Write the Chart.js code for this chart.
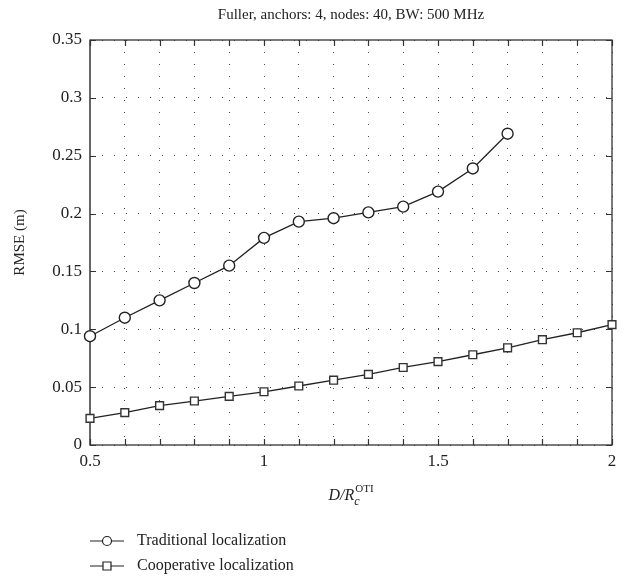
<!DOCTYPE html>
<html>
<head>
<meta charset="utf-8">
<script src="https://cdn.jsdelivr.net/npm/chart.js@4/dist/chart.umd.min.js"></script>
<style>
  body { margin: 0; background: #fff; }
  canvas { display: block; }
</style>
</head>
<body>
<canvas id="rmseChart" width="627" height="581"></canvas>
<script>
const ratioTraditional = [0.5, 0.6, 0.7, 0.8, 0.9, 1.0, 1.1, 1.2, 1.3, 1.4, 1.5, 1.6, 1.7];
const rmseTraditional = [0.094, 0.110, 0.125, 0.140, 0.155, 0.179, 0.193, 0.196, 0.201, 0.206, 0.219, 0.239, 0.269];
const ratioCooperative = [0.5, 0.6, 0.7, 0.8, 0.9, 1.0, 1.1, 1.2, 1.3, 1.4, 1.5, 1.6, 1.7, 1.8, 1.9, 2.0];
const rmseCooperative = [0.023, 0.028, 0.034, 0.038, 0.042, 0.046, 0.051, 0.056, 0.061, 0.067, 0.072, 0.078, 0.084, 0.091, 0.097, 0.104];
const xTickLabels = ['0.5', '1', '1.5', '2'];

const FONT = '"Liberation Serif", "DejaVu Serif", serif';
const INK = '#222';

const toPoints = (xs, ys) => xs.map((x, i) => ({ x: x, y: ys[i] }));

// frame, inward ticks, title, axis labels, legend
const decorations = {
    id: 'decorations',
    beforeDatasetsDraw(chart) {
        const ctx = chart.ctx;
        const a = chart.chartArea;
        const xs = chart.scales.x;
        const ys = chart.scales.y;
        ctx.save();

        ctx.strokeStyle = '#333';
        ctx.lineWidth = 1.3;
        ctx.strokeRect(a.left, a.top, a.right - a.left, a.bottom - a.top);
        ctx.strokeStyle = '#666';
        ctx.lineWidth = 2;
        ctx.beginPath();
        ctx.moveTo(a.left, a.top);
        ctx.lineTo(a.left, a.bottom);
        ctx.stroke();

        ctx.strokeStyle = '#333';
        ctx.lineWidth = 1.2;
        ctx.beginPath();
        xs.ticks.forEach(t => {
            const px = Math.round(xs.getPixelForValue(t.value)) + 0.5;
            ctx.moveTo(px, a.bottom); ctx.lineTo(px, a.bottom - 6);
            ctx.moveTo(px, a.top); ctx.lineTo(px, a.top + 6);
        });
        ys.ticks.forEach(t => {
            const py = Math.round(ys.getPixelForValue(t.value)) + 0.5;
            ctx.moveTo(a.left, py); ctx.lineTo(a.left + 6, py);
            ctx.moveTo(a.right, py); ctx.lineTo(a.right - 6, py);
        });
        ctx.stroke();
        ctx.restore();
    },
    afterDraw(chart) {
        const ctx = chart.ctx;
        const a = chart.chartArea;
        ctx.save();

        const cx = (a.left + a.right) / 2;
        ctx.fillStyle = INK;
        ctx.textBaseline = 'middle';
        ctx.textAlign = 'center';
        ctx.font = '15px ' + FONT;
        ctx.fillText('Fuller, anchors: 4, nodes: 40, BW: 500 MHz', cx, 15);

        ctx.save();
        ctx.translate(20, (a.top + a.bottom) / 2);
        ctx.rotate(-Math.PI / 2);
        ctx.font = '15px ' + FONT;
        ctx.fillText('RMSE (m)', 0, 0);
        ctx.restore();

        // x axis title: D/R_c^OTI
        ctx.textAlign = 'left';
        const main = 'italic 16px ' + FONT;
        const small = '11px ' + FONT;
        const smallIt = 'italic 12px ' + FONT;
        ctx.font = main;
        const w1 = ctx.measureText('D/R').width;
        ctx.font = small;
        const w2 = ctx.measureText('OTI').width;
        let x0 = cx - (w1 + 1 + w2) / 2;
        const yT = 496;
        ctx.font = main;
        ctx.fillText('D/R', x0, yT);
        ctx.font = smallIt;
        ctx.fillText('c', x0 + w1, yT + 6);
        ctx.font = small;
        ctx.fillText('OTI', x0 + w1 + 1, yT - 7);

        // legend
        const rows = [
            { label: 'Traditional localization', style: 'circle', y: 541 },
            { label: 'Cooperative localization', style: 'rect', y: 566 }
        ];
        rows.forEach(r => {
            ctx.strokeStyle = INK;
            ctx.lineWidth = 1.2;
            ctx.beginPath();
            ctx.moveTo(90, r.y); ctx.lineTo(124, r.y);
            ctx.stroke();
            ctx.fillStyle = '#fff';
            ctx.beginPath();
            if (r.style === 'circle') {
                ctx.arc(107, r.y, 4.5, 0, Math.PI * 2);
            } else {
                ctx.rect(103, r.y - 4, 8, 8);
            }
            ctx.fill();
            ctx.stroke();
            ctx.fillStyle = INK;
            ctx.font = '16px ' + FONT;
            ctx.fillText(r.label, 137, r.y);
        });

        ctx.restore();
    }
};

new Chart(document.getElementById('rmseChart'), {
    type: 'line',
    data: {
        datasets: [
            {
                label: 'Traditional localization',
                data: toPoints(ratioTraditional, rmseTraditional),
                borderColor: INK,
                borderWidth: 1.3,
                pointStyle: 'circle',
                pointRadius: 5.5,
                pointBorderWidth: 1.4,
                pointBackgroundColor: '#fff',
                pointBorderColor: INK,
                clip: false,
                tension: 0
            },
            {
                label: 'Cooperative localization',
                data: toPoints(ratioCooperative, rmseCooperative),
                borderColor: INK,
                borderWidth: 1.3,
                pointStyle: 'rect',
                pointRadius: 5.5,
                pointBorderWidth: 1.4,
                pointBackgroundColor: '#fff',
                pointBorderColor: '#333',
                clip: false,
                tension: 0
            }
        ]
    },
    options: {
        responsive: false,
        animation: false,
        layout: { padding: { left: 0, right: 15, top: 40, bottom: 100 } },
        plugins: {
            legend: { display: false },
            title: { display: false },
            tooltip: { enabled: false }
        },
        scales: {
            x: {
                type: 'linear',
                min: 0.5,
                max: 2,
                afterFit: s => { s.height = 36; },
                afterBuildTicks: s => {
                    s.ticks = [];
                    for (let i = 5; i <= 20; i++) s.ticks.push({ value: i / 10 });
                },
                ticks: {
                    autoSkip: false,
                    maxRotation: 0,
                    padding: 6,
                    color: INK,
                    font: { family: FONT, size: 17 },
                    callback: v => {
                        const k = Math.round(v * 2);
                        return Math.abs(v * 2 - k) < 1e-6 ? xTickLabels[k - 1] : '';
                    }
                },
                grid: { color: '#444', lineWidth: 1, drawTicks: false },
                border: { display: false, dash: [1, 11] }
            },
            y: {
                min: 0,
                max: 0.35,
                afterFit: s => { s.width = 90; },
                ticks: {
                    stepSize: 0.05,
                    padding: 8,
                    color: INK,
                    font: { family: FONT, size: 17 },
                    callback: v => String(+v.toFixed(2))
                },
                grid: { color: '#444', lineWidth: 1, drawTicks: false },
                border: { display: false, dash: [1, 11] }
            }
        }
    },
    plugins: [decorations]
});
</script>
</body>
</html>
